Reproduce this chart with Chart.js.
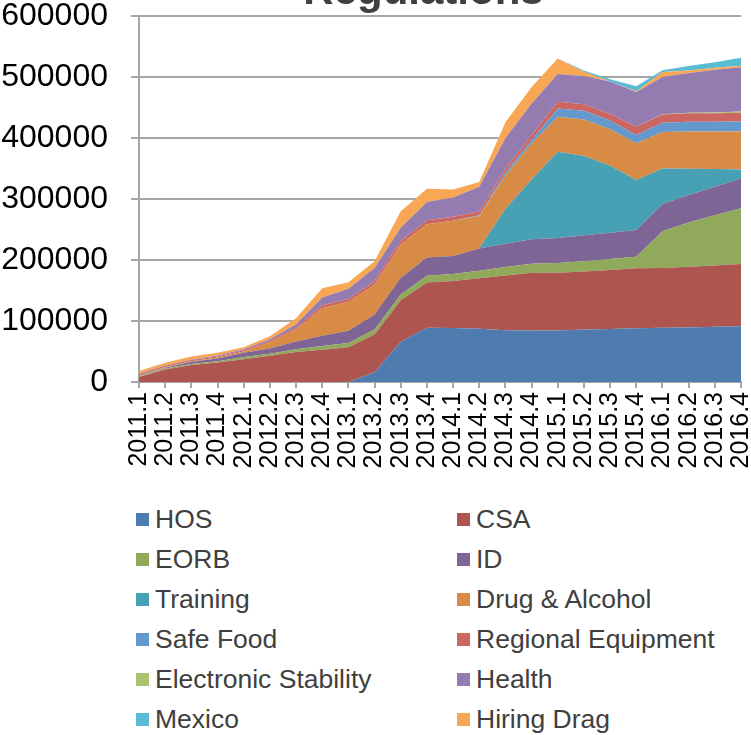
<!DOCTYPE html>
<html>
<head>
<meta charset="utf-8">
<title>Regulations</title>
<script src="https://cdn.jsdelivr.net/npm/chart.js@4.4.1/dist/chart.umd.min.js"></script>
<style>
    html, body { margin: 0; padding: 0; background: #fff; }
    body { width: 751px; height: 735px; position: relative; overflow: hidden; font-family: 'Liberation Sans', Arial, sans-serif; }
    #chart-title {
        position: absolute; left: 0; top: -31.5px; width: 847px;
        text-align: center; font-size: 42px; line-height: 42px; font-weight: bold; color: #404040;
    }
    #chart-wrap { position: absolute; left: 0; top: -36px; width: 751px; height: 520px; }
    #legend {
        position: absolute; left: 136px; top: 499px;
        display: grid; grid-template-columns: 321px auto;
        font-size: 26.5px; color: #404040;
    }
    .legend-item { display: flex; align-items: center; height: 40px; white-space: nowrap; }
    .legend-swatch { width: 13px; height: 13px; margin-right: 6px; flex: none; }
</style>
</head>
<body>
<div id="chart-wrap"><canvas id="regChart"></canvas></div>
<div id="chart-title">Regulations</div>
<div id="legend"></div>
<script>
// quarterly totals per regulation program
const quarters = ['2011.1', '2011.2', '2011.3', '2011.4', '2012.1', '2012.2', '2012.3', '2012.4',
    '2013.1', '2013.2', '2013.3', '2013.4', '2014.1', '2014.2', '2014.3', '2014.4',
    '2015.1', '2015.2', '2015.3', '2015.4', '2016.1', '2016.2', '2016.3', '2016.4'];

const hos = [0, 0, 0, 0, 0, 0, 0, 0, 0, 16000, 66000, 89000, 88500, 87500, 85000, 84500, 84500, 86000, 87000, 88000, 89000, 89500, 90500, 91500];
const csa = [8000, 20500, 28000, 32000, 37500, 43000, 49000, 53000, 57000, 62000, 68000, 74000, 77000, 82500, 89500, 94500, 94500, 95000, 96500, 98500, 98000, 99500, 100500, 102000];
const eorb = [1000, 1500, 1500, 2000, 3500, 3500, 4500, 6000, 7000, 8000, 9500, 11000, 11500, 12500, 14000, 15000, 16000, 17000, 18000, 19000, 60000, 72500, 82500, 91500];
const idReg = [1000, 1500, 3500, 4500, 7000, 8500, 13000, 17000, 20000, 24500, 27500, 30000, 29500, 36500, 38000, 40000, 41000, 42500, 43000, 43500, 45000, 45000, 46500, 48500];
const training = [0, 0, 0, 0, 0, 0, 0, 0, 0, 0, 0, 0, 0, 0, 57500, 98000, 141500, 130000, 110000, 82000, 58000, 43000, 29000, 15000];
const drugAlcohol = [1000, 1000, 1000, 1500, 2000, 10000, 20000, 45000, 47000, 49000, 54500, 54500, 58000, 53000, 54500, 59000, 57500, 60000, 60000, 60500, 60000, 61000, 61500, 62000];
const safeFood = [0, 0, 0, 0, 0, 0, 0, 0, 0, 0, 0, 0, 0, 1500, 5000, 5500, 13500, 14000, 14000, 13500, 15000, 16000, 16000, 16500];
const regionalEquipment = [2000, 2000, 2000, 2000, 2000, 2500, 3000, 5000, 5000, 5500, 5500, 6500, 6500, 6000, 6000, 8000, 11000, 11000, 11000, 13500, 13500, 14000, 14000, 14500];
const electronicStability = [0, 0, 0, 0, 0, 0, 0, 0, 0, 0, 0, 0, 0, 0, 0, 0, 0, 0, 0, 0, 500, 1000, 1500, 2000];
const health = [1000, 1000, 1000, 1500, 1500, 2500, 5000, 12500, 17000, 22000, 22000, 30000, 31500, 40500, 50500, 52000, 45500, 46000, 53000, 57000, 61000, 65000, 70000, 72500];
const hiringDrag = [4000, 4000, 5000, 4500, 3500, 5000, 10000, 15000, 10500, 11000, 27000, 22000, 13000, 8000, 26000, 27000, 25500, 7000, 0, 1000, 8000, 4000, 3000, 2500];
const mexico = [0, 0, 0, 0, 0, 0, 0, 0, 0, 0, 0, 0, 0, 0, 0, 0, 0, 2000, 4000, 8500, 3000, 7500, 9000, 13000];

const yTicks = [0, 100000, 200000, 300000, 400000, 500000, 600000];

// stacking order, bottom to top
const series = [
    { label: 'HOS', data: hos, color: '#4F7CAF' },
    { label: 'CSA', data: csa, color: '#AE5550' },
    { label: 'EORB', data: eorb, color: '#90A95A' },
    { label: 'ID', data: idReg, color: '#7E6595' },
    { label: 'Training', data: training, color: '#48A0B4' },
    { label: 'Drug & Alcohol', data: drugAlcohol, color: '#D78B44' },
    { label: 'Safe Food', data: safeFood, color: '#6399CD' },
    { label: 'Regional Equipment', data: regionalEquipment, color: '#CC6660' },
    { label: 'Electronic Stability', data: electronicStability, color: '#A9C46E' },
    { label: 'Health', data: health, color: '#957CB0' },
    { label: 'Hiring Drag', data: hiringDrag, color: '#F8A754' },
    { label: 'Mexico', data: mexico, color: '#59BCD4' }
];

const legendOrder = ['HOS', 'CSA', 'EORB', 'ID', 'Training', 'Drug & Alcohol', 'Safe Food',
    'Regional Equipment', 'Electronic Stability', 'Health', 'Mexico', 'Hiring Drag'];

const fontFamily = "'Liberation Sans', Arial, sans-serif";

const legend = document.getElementById('legend');
legend.innerHTML = legendOrder.map(name => {
    const s = series.find(x => x.label === name);
    return `<div class="legend-item"><span class="legend-swatch" style="background:${s.color}"></span>${s.label.replace('&', '&amp;')}</div>`;
}).join('');

new Chart(document.getElementById('regChart'), {
    type: 'line',
    data: {
        labels: quarters,
        datasets: series.map((s, i) => ({
            label: s.label,
            data: s.data,
            backgroundColor: s.color,
            borderColor: 'rgba(0,0,0,0)',
            borderWidth: 0,
            pointRadius: 0,
            tension: 0,
            fill: i === 0 ? 'origin' : '-1'
        }))
    },
    options: {
        responsive: true,
        maintainAspectRatio: false,
        animation: false,
        layout: { padding: { left: 0, right: 10, top: 52, bottom: 0 } },
        plugins: {
            legend: { display: false },
            tooltip: { enabled: false },
            title: { display: false }
        },
        scales: {
            x: {
                type: 'category',
                offset: false,
                grid: { drawOnChartArea: false, drawTicks: true, tickLength: 6, color: '#a6a6a6', lineWidth: 2, offset: false },
                border: { color: '#a6a6a6', width: 2 },
                ticks: {
                    autoSkip: false, minRotation: 90, maxRotation: 90, padding: 4,
                    color: '#000', font: { family: fontFamily, size: 25 }
                },
                afterFit: scale => {
                    scale.height = 102;
                    // rotated labels fit inside the margins already
                    scale.paddingLeft = 0;
                    scale.paddingRight = 0;
                }
            },
            y: {
                stacked: true,
                min: yTicks[0],
                max: yTicks[yTicks.length - 1],
                afterBuildTicks: scale => { scale.ticks = yTicks.map(v => ({ value: v })); },
                grid: { color: '#a6a6a6', lineWidth: 2, tickLength: 8 },
                border: { color: '#a6a6a6', width: 2 },
                ticks: {
                    padding: 23, color: '#000',
                    font: { family: fontFamily, size: 32 },
                    callback: v => String(v)
                },
                afterFit: scale => { scale.width = 139; }
            }
        }
    }
});
</script>
</body>
</html>
